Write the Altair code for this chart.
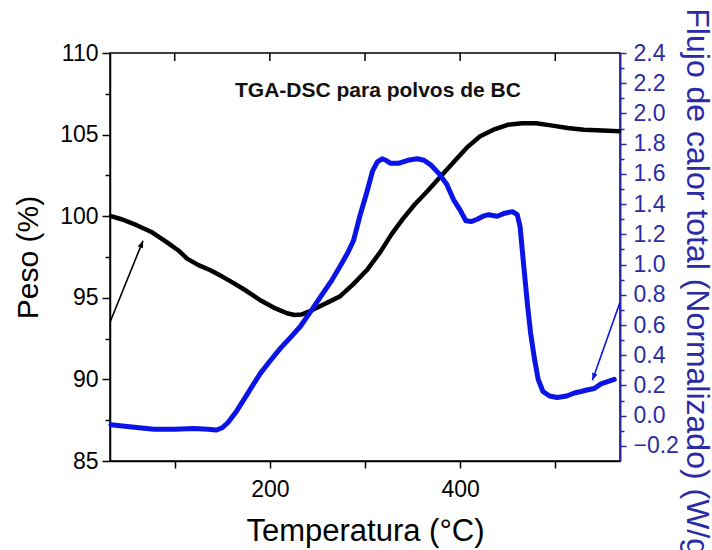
import altair as alt
import pandas as pd

# ---- data ----
temp_tga = [33, 45, 60, 75, 92, 105, 113, 125, 137, 150, 162, 176, 190, 204, 218, 226, 233, 241, 250, 262,
            274, 288, 302, 316, 328, 340, 352, 365, 379, 393, 407, 421, 435, 450, 465, 480, 497, 513, 530, 550, 567]
peso = [100.0, 99.8, 99.45, 99.05, 98.4, 97.85, 97.4, 97.0, 96.7, 96.3, 95.9, 95.4, 94.85, 94.4, 94.05, 93.95,
        93.97, 94.15, 94.4, 94.75, 95.1, 95.85, 96.7, 97.8, 98.9, 99.85, 100.7, 101.5, 102.4, 103.3, 104.2,
        104.9, 105.3, 105.6, 105.7, 105.7, 105.55, 105.4, 105.3, 105.25, 105.2]

temp_dsc = [33, 55, 78, 100, 120, 135, 144, 150, 156, 165, 172, 181, 190, 200, 211, 222, 232, 243, 253, 264,
            274, 282, 288, 295, 302, 308, 313, 318, 322, 327, 335, 345, 355, 362, 369, 378, 386, 393, 400, 406,
            412, 418, 424, 430, 439, 447, 455, 460, 463, 467, 471, 474, 478, 482, 487, 494, 502, 512, 520, 527,
            533, 541, 548, 555, 562]
flujo = [-0.06, -0.075, -0.09, -0.09, -0.085, -0.09, -0.095, -0.08, -0.045, 0.03, 0.10, 0.19, 0.28, 0.36, 0.445,
         0.52, 0.59, 0.69, 0.785, 0.885, 0.99, 1.08, 1.16, 1.33, 1.48, 1.62, 1.68, 1.70, 1.69, 1.67, 1.67, 1.69,
         1.70, 1.69, 1.66, 1.60, 1.53, 1.43, 1.36, 1.29, 1.285, 1.30, 1.32, 1.33, 1.32, 1.34, 1.35, 1.33, 1.25,
         0.98, 0.72, 0.55, 0.38, 0.24, 0.16, 0.13, 0.12, 0.13, 0.15, 0.16, 0.17, 0.18, 0.21, 0.225, 0.24]

x_ticks = [100, 200, 300, 400, 500]
x_labelled = [200, 400]
peso_major = [85, 90, 95, 100, 105, 110]
peso_minor = [87.5, 92.5, 97.5, 102.5, 107.5]
flujo_major = [-0.2, 0.0, 0.2, 0.4, 0.6, 0.8, 1.0, 1.2, 1.4, 1.6, 1.8, 2.0, 2.2, 2.4]
flujo_minor = [-0.1, 0.1, 0.3, 0.5, 0.7, 0.9, 1.1, 1.3, 1.5, 1.7, 1.9, 2.1, 2.3]

arrow_black_x = [32, 66.7]
arrow_black_y = [93.5, 98.5]
arrow_blue_x = [568, 539]
arrow_blue_y = [0.75, 0.235]

title_text = ["TGA-DSC para polvos de BC"]
title_x = [313.6]
title_y = [107.67]

x_label = "Temperatura (°C)"
y_label = "Peso (%)"
y2_label = "Flujo de calor total (Normalizado) (W/g)"

# ---- styling ----
FONT = "Liberation Sans"
BLUE_LINE = "#0a14e6"
BLUE_AXIS = "#2b2ba6"
ARROW_PATH = "M0,0 L-0.4,1 L0.4,1 Z"

tga = pd.DataFrame({"T": temp_tga, "P": peso})
dsc = pd.DataFrame({"T": temp_dsc, "F": flujo})

xscale = alt.Scale(domain=[32, 568], nice=False, zero=False)
pscale = alt.Scale(domain=[85, 110], nice=False, zero=False)
fscale = alt.Scale(domain=[-0.3, 2.4], nice=False, zero=False)

label_expr = " || ".join(f"datum.value == {v}" for v in x_labelled)
x_axis = alt.Axis(
    orient="bottom", values=x_ticks, labelExpr=f"({label_expr}) ? datum.label : ''",
    tickSize=7, tickWidth=1.5, tickColor="black", domainColor="black", domainWidth=1.5,
    labelFont=FONT, labelFontSize=23, labelColor="black", labelPadding=10,
    title=x_label, titleFont=FONT, titleFontSize=31, titleFontWeight="normal", titleColor="black",
    titleX=255, titleY=79, titleBaseline="alphabetic", titleAlign="center", grid=False,
)


def xe(field):
    return alt.X(field, scale=xscale, axis=x_axis)


black = alt.Chart(tga).mark_line(color="black", strokeWidth=4.5, strokeCap="round", strokeJoin="round").encode(
    x=xe("T:Q"),
    y=alt.Y("P:Q", scale=pscale, axis=alt.Axis(
        orient="left", values=peso_major, tickSize=8, tickWidth=1.5, tickColor="black",
        domainColor="black", domainWidth=1.5, labelFont=FONT, labelFontSize=23, labelColor="black",
        labelPadding=4, grid=False, title=y_label, titleFont=FONT, titleFontSize=30,
        titleFontWeight="normal", titleColor="black", titleX=-73, titleY=204, titleAngle=270,
        titleAlign="center", titleBaseline="alphabetic")),
)

left_minor = alt.Chart(tga).mark_point(opacity=0).encode(
    x=xe("T:Q"),
    y=alt.Y("P:Q", scale=pscale, axis=alt.Axis(
        orient="left", values=peso_minor, tickSize=5, tickWidth=1.5, tickColor="black",
        labels=False, domain=False, grid=False, title=None)),
)

blue = alt.Chart(dsc).mark_line(color=BLUE_LINE, strokeWidth=5, strokeCap="round", strokeJoin="round").encode(
    x=xe("T:Q"),
    y=alt.Y("F:Q", scale=fscale, axis=alt.Axis(
        orient="right", values=flujo_major, format=".1f", tickSize=6, tickWidth=1.5, tickColor=BLUE_AXIS,
        domainColor=BLUE_AXIS, domainWidth=2, labelFont=FONT, labelFontSize=23, labelColor=BLUE_AXIS,
        labelPadding=7, grid=False, title=y2_label, titleFont=FONT, titleFontSize=32,
        titleFontWeight="normal", titleColor=BLUE_AXIS, titleX=66, titleY=234, titleAngle=90,
        titleAlign="center", titleBaseline="alphabetic")),
)

right_minor = alt.Chart(dsc).mark_point(opacity=0).encode(
    x=xe("T:Q"),
    y=alt.Y("F:Q", scale=fscale, axis=alt.Axis(
        orient="right", values=flujo_minor, tickSize=4, tickWidth=1.5, tickColor=BLUE_AXIS,
        labels=False, domain=False, grid=False, title=None)),
)

ab = pd.DataFrame({"T": [arrow_black_x[0]], "T2": [arrow_black_x[1]],
                   "y": [arrow_black_y[0]], "y2": [arrow_black_y[1]]})
abl = pd.DataFrame({"T": [arrow_blue_x[0]], "T2": [arrow_blue_x[1]],
                    "y": [arrow_blue_y[0]], "y2": [arrow_blue_y[1]]})

arrow_black = alt.Chart(ab).mark_rule(color="black", strokeWidth=1.6).encode(
    x=xe("T:Q"), x2="T2:Q",
    y=alt.Y("y:Q", scale=pscale, axis=None), y2="y2:Q",
)
head_black = alt.Chart(ab).mark_point(shape=ARROW_PATH, filled=True, size=200, angle=22,
                                      color="black", opacity=1).encode(
    x=xe("T2:Q"),
    y=alt.Y("y2:Q", scale=pscale, axis=None),
)
arrow_blue = alt.Chart(abl).mark_rule(color=BLUE_LINE, strokeWidth=1.6).encode(
    x=xe("T:Q"), x2="T2:Q",
    y=alt.Y("y:Q", scale=fscale, axis=None), y2="y2:Q",
)
head_blue = alt.Chart(abl).mark_point(shape=ARROW_PATH, filled=True, size=200, angle=200,
                                      color=BLUE_LINE, opacity=1).encode(
    x=xe("T2:Q"),
    y=alt.Y("y2:Q", scale=fscale, axis=None),
)

title = alt.Chart(pd.DataFrame({"T": title_x, "y": title_y, "t": title_text})).mark_text(
    font=FONT, fontSize=21, fontWeight="bold", color="#111111", align="center", baseline="middle"
).encode(
    x=xe("T:Q"),
    y=alt.Y("y:Q", scale=pscale, axis=None),
    text="t:N",
)

top_ticks = alt.Chart(pd.DataFrame({"T": x_ticks})).mark_rule(color="black", strokeWidth=1.5).encode(
    x=xe("T:Q"),
    y=alt.value(0), y2=alt.value(8),
)

chart = alt.layer(
    black, left_minor, blue, right_minor, arrow_black, head_black, arrow_blue, head_blue, title, top_ticks
).resolve_scale(y="independent", x="shared").resolve_axis(y="independent", x="shared").properties(
    width=510, height=408,
    autosize=alt.AutoSizeParams(type="none"),
    padding={"left": 110, "top": 53, "right": 92, "bottom": 89},
    background="white",
).configure_view(stroke="black", strokeWidth=1.5)

chart.save("out.html", embed_options={"renderer": "svg", "actions": False})
